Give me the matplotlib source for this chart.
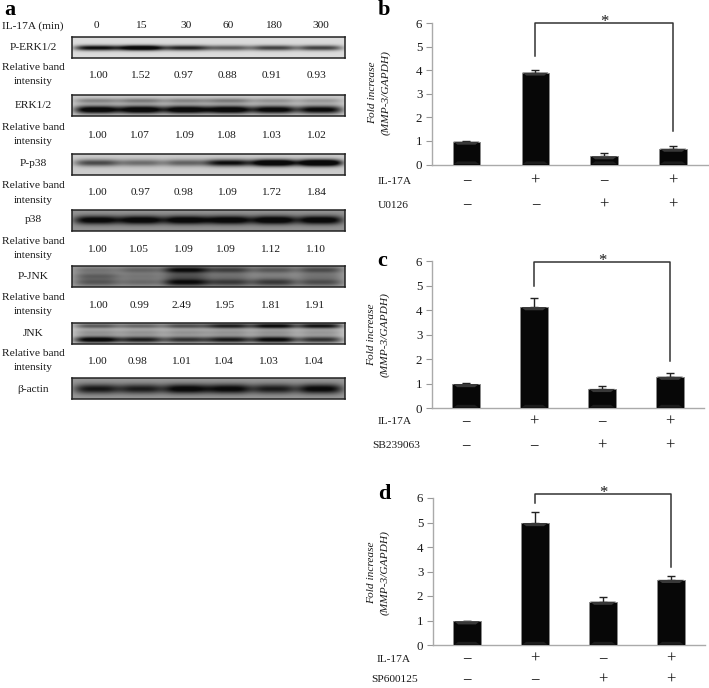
import numpy as np
import matplotlib
matplotlib.use("Agg")
import matplotlib.pyplot as plt
from matplotlib.patches import Polygon

plt.rcParams['font.family'] = ['Liberation Serif', 'DejaVu Serif']
W, H = 709, 688
fig = plt.figure(figsize=(W/100, H/100), dpi=100)
TXT = '#1a1a1a'

# ---------- data ----------
time_labels = ['0', '15', '30', '60', '180', '300']
row_names = ['P-ERK1/2', 'ERK1/2', 'P-p38', 'p38', 'P-JNK', 'JNK', 'β-actin']
int_perk = ['1.00', '1.52', '0.97', '0.88', '0.91', '0.93']
int_erk = ['1.00', '1.07', '1.09', '1.08', '1.03', '1.02']
int_pp38 = ['1.00', '0.97', '0.98', '1.09', '1.72', '1.84']
int_p38 = ['1.00', '1.05', '1.09', '1.09', '1.12', '1.10']
int_pjnk = ['1.00', '0.99', '2.49', '1.95', '1.81', '1.91']
int_jnk = ['1.00', '0.98', '1.01', '1.04', '1.03', '1.04']

conditions = ['1', '2', '3', '4']
vals_b = [0.97, 3.90, 0.35, 0.67]
errs_b = [0.03, 0.12, 0.12, 0.13]
vals_c = [0.98, 4.12, 0.78, 1.28]
errs_c = [0.03, 0.35, 0.12, 0.13]
vals_d = [0.97, 4.98, 1.77, 2.66]
errs_d = [0.03, 0.45, 0.20, 0.15]
il17a = ['−', '+', '−', '+']
inhibitor = ['−', '−', '+', '+']

# band strengths per lane (0-1 darkness), estimated from the blots
b_perk = [0.85, 1.05, 0.75, 0.52, 0.62, 0.62]
b_erk_up = [0.28, 0.32, 0.28, 0.32, 0.22, 0.20]
b_erk_lo = [0.90, 0.92, 0.92, 0.92, 0.85, 0.82]
b_pp38 = [0.52, 0.38, 0.42, 0.78, 1.05, 1.10]
b_p38 = [0.62, 0.65, 0.66, 0.66, 0.68, 0.66]
b_pjnk_up = [0.18, 0.25, 0.62, 0.40, 0.30, 0.35]
b_pjnk_mi = [0.25, 0.15, 0.25, 0.15, 0.10, 0.15]
b_pjnk_lo = [0.30, 0.22, 0.62, 0.42, 0.42, 0.34]
b_jnk_up = [0.45, 0.40, 0.50, 0.70, 0.80, 0.75]
b_jnk_mi = [0.22, 0.22, 0.22, 0.22, 0.22, 0.20]
b_jnk_lo = [0.85, 0.70, 0.62, 0.72, 0.80, 0.62]
b_actin = [0.52, 0.50, 0.62, 0.60, 0.50, 0.60]


def fx(x):
    return x / W


def fy(y):
    return 1 - y / H


def add_px_axes(x0, y0, x1, y1):
    return fig.add_axes([x0/W, 1-y1/H, (x1-x0)/W, (y1-y0)/H])


def label(x, y, s, size=8.2, ha='center', **kw):
    kw.setdefault('color', TXT)
    fig.text(fx(x), fy(y), s, fontsize=size, ha=ha, va='center', **kw)


# ---------- panel a ----------
lane_x = np.array([97, 141, 186, 229, 274, 320])
GX0, GX1 = 72, 345


def gel(y0, y1, bg, bands):
    ax = add_px_axes(GX0, y0, GX1, y1)
    h, w = 42, 546
    xs = np.linspace(GX0, GX1, w)
    ys = np.linspace(0, 1, h)
    img = np.full((h, w), float(bg))
    for pos, sig, strengths in bands:
        prof = np.exp(-((ys - pos) / sig) ** 2)
        for cx, s in zip(lane_x, strengths):
            env = np.exp(-((xs - cx) / 22.5) ** 4)
            img -= s * np.outer(prof, env)
    img = np.clip(img, 0.04, 1)
    ax.imshow(img, cmap='gray', vmin=0, vmax=1, aspect='auto', interpolation='bilinear')
    ax.set_xticks([])
    ax.set_yticks([])
    for sp in ax.spines.values():
        sp.set_linewidth(1.1)
        sp.set_color('#222222')


gel(37, 58, 0.86, [(0.52, 0.13, b_perk)])
gel(95, 116, 0.80, [(0.30, 0.12, b_erk_up), (0.72, 0.19, b_erk_lo)])
gel(154, 175, 0.80, [(0.42, 0.17, b_pp38)])
gel(210, 231, 0.58, [(0.48, 0.21, b_p38)])
gel(266, 287, 0.64, [(0.18, 0.17, b_pjnk_up), (0.48, 0.16, b_pjnk_mi), (0.78, 0.19, b_pjnk_lo)])
gel(323, 344, 0.80, [(0.13, 0.13, b_jnk_up), (0.45, 0.16, b_jnk_mi), (0.80, 0.16, b_jnk_lo)])
gel(378, 399, 0.60, [(0.52, 0.24, b_actin)])

label(10, 10, 'a', size=16, weight='bold', color='black')
label(33, 26, 'IL-17A (min)')
for x, t in zip([96, 141, 186, 228, 273, 321], time_labels):
    label(x, 26, t)

for y, name in zip([48, 106, 164, 220, 276, 334, 389], row_names):
    label(33.5, y, name)

rows = [
    (76, [98, 140, 184, 227, 272, 317], int_perk, 68),
    (135, [97, 139, 184, 226, 271, 316], int_erk, 128),
    (193, [97, 141, 184, 227, 271, 316], int_pp38, 186),
    (249, [97, 138, 183, 225, 270, 315], int_p38, 242),
    (305, [98, 140, 182, 224, 270, 314], int_pjnk, 298),
    (361, [97, 138, 181, 223, 268, 313], int_jnk, 354),
]
for y, xs_, values, ry in rows:
    label(33, ry, 'Relative band')
    label(33, ry + 14, 'intensity')
    for x, v in zip(xs_, values):
        label(x, y, v)


# ---------- panels b, c, d ----------
def bar_panel(box, letter, letter_xy, vals, errs, inhib_name, inhib_x, rows_y,
              il_x, yl_x, yl_y, br):
    ax = add_px_axes(*box)
    x = np.arange(len(conditions))
    width = 0.40
    ax.errorbar(x, vals, yerr=[[0]*4, errs], fmt='none', ecolor='#222222',
                elinewidth=1.0, capsize=3, capthick=1.0, zorder=2)
    ax.bar(x, vals, width=width, color='#070707', edgecolor='#8a8a8a',
           linewidth=0.7, zorder=3)
    bev = 0.13
    for xi, v in zip(x, vals):
        ax.add_patch(Polygon([(xi-width/2+0.01, v), (xi+width/2-0.01, v),
                              (xi+width/2-0.07, v-bev), (xi-width/2+0.07, v-bev)],
                             closed=True, facecolor='#383838', edgecolor='none', zorder=4))
        ax.add_patch(Polygon([(xi-width/2+0.01, 0.01), (xi+width/2-0.01, 0.01),
                              (xi+width/2-0.07, bev), (xi-width/2+0.07, bev)],
                             closed=True, facecolor='#1c1c1c', edgecolor='none', zorder=4))
    ax.set_xlim(-0.5, 3.5)
    ax.set_ylim(0, 6)
    ax.set_xticks([])
    ax.set_yticks(range(7))
    ax.tick_params(axis='y', length=4, width=0.8, color='#999999', labelsize=9.3,
                   labelcolor=TXT, pad=3)
    for s in ('top', 'right'):
        ax.spines[s].set_visible(False)
    for s in ('left', 'bottom'):
        ax.spines[s].set_color('#aaaaaa')
        ax.spines[s].set_linewidth(1.0)
    ax.patch.set_alpha(0)

    y_a, y_top, y_b = br
    ax.plot([1, 1, 3, 3], [y_a, y_top, y_top, y_b], color='#333333', lw=1.1,
            clip_on=False, zorder=5)
    ax.text(2, y_top + 0.04, '*', fontsize=12, ha='center', va='center', color=TXT,
            clip_on=False)

    label(letter_xy[0], letter_xy[1], letter, size=16, weight='bold', color='black')
    label(yl_x, yl_y, 'Fold increase', rotation=90, style='italic', size=8.2)
    label(yl_x + 12.5, yl_y, '(MMP-3/GAPDH)', rotation=90, style='italic', size=8.2)

    label(il_x, rows_y[0], 'IL-17A', ha='left')
    label(inhib_x, rows_y[1], inhib_name, ha='left')
    x0, _, x1, _ = box
    for xi, a, b in zip(x, il17a, inhibitor):
        px = x0 + (xi + 0.5) / 4 * (x1 - x0)
        label(px, rows_y[0], a, size=12)
        label(px, rows_y[1], b, size=12)


bar_panel((432, 23, 707.5, 164.5), 'b', (384, 10), vals_b, errs_b, 'U0126', 378,
          (181, 205), 378, 373, 93, (4.6, 6.0, 1.4))
bar_panel((432, 261, 704, 408), 'c', (382, 261), vals_c, errs_c, 'SB239063', 372,
          (422, 446), 378, 372, 335, (5.0, 5.95, 1.9))
bar_panel((433, 498, 705, 645), 'd', (384, 494), vals_d, errs_d, 'SP600125', 371,
          (659, 680), 377, 372, 573, (5.8, 6.15, 3.2))

fig.savefig('out.png', dpi=100, facecolor='white')
